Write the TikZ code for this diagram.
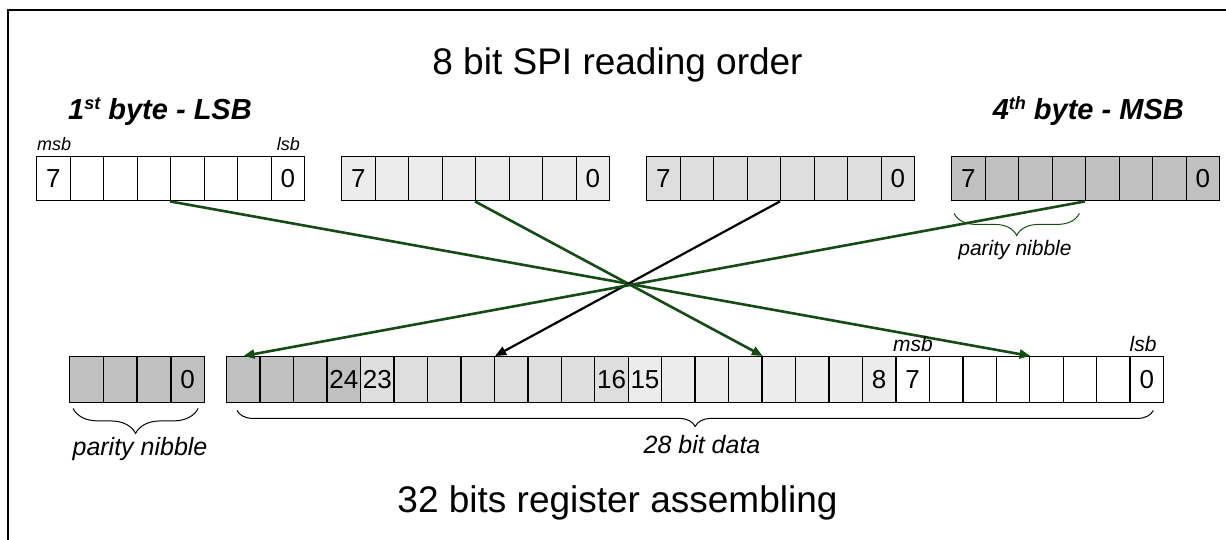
\documentclass[tikz,border=0pt]{standalone}
\usepackage{fontspec}
\setmainfont{Liberation Sans}
\usetikzlibrary{arrows.meta,decorations.pathreplacing}
\definecolor{dgreen}{RGB}{22,75,22}
\definecolor{gA}{RGB}{236,236,236}
\definecolor{gB}{RGB}{222,222,222}
\definecolor{gC}{RGB}{192,192,192}
\newcommand{\fsz}[1]{\fontsize{#1pt}{#1pt}\selectfont}
\begin{document}
\begin{tikzpicture}[x=1pt,y=-1pt,
  cellT/.style={draw=black,line width=1.4pt,minimum width=33.5pt,minimum height=44pt,inner sep=0pt,anchor=north west,font=\fsz{26}},
  cellB/.style={cellT,minimum height=46pt},
  txt/.style={inner sep=0pt},
  conn/.style={line width=2.6pt,-{Triangle[length=11pt,width=9pt]}},
  brc/.style={decorate,line width=1pt},
]
\useasboundingbox (0,0) rectangle (1226,539);
% frame
\draw[line width=2.5pt] (8,545) -- (8,10) -- (1230,10);
% top bytes
\foreach \b/\x/\c in {1/36/white,2/341/gA,3/646/gB,4/951/gC}{
  \foreach \i in {0,...,7}{
    \def\lbl{}
    \ifnum\i=0 \def\lbl{7}\fi
    \ifnum\i=7 \def\lbl{0}\fi
    \node[cellT,fill=\c] (t\b-\i) at ({\x+\i*33.5},156) {\lbl};
  }
}
% parity nibble (bottom)
\foreach \i in {0,...,3}{
  \def\lbl{}
  \ifnum\i=3 \def\lbl{0}\fi
  \node[cellB,fill=gC] (p\i) at ({69+\i*33.75},356) {\lbl};
}
% 28 bit data
\foreach \i in {0,...,27}{
  \pgfmathtruncatemacro{\bit}{27-\i}
  \def\fc{white}
  \ifnum\i<20 \def\fc{gA}\fi
  \ifnum\i<12 \def\fc{gB}\fi
  \ifnum\i<4 \def\fc{gC}\fi
  \def\lbl{}
  \ifnum\bit=24 \let\lbl\bit\fi
  \ifnum\bit=23 \let\lbl\bit\fi
  \ifnum\bit=16 \let\lbl\bit\fi
  \ifnum\bit=15 \let\lbl\bit\fi
  \ifnum\bit=8 \let\lbl\bit\fi
  \ifnum\bit=7 \let\lbl\bit\fi
  \ifnum\bit=0 \let\lbl\bit\fi
  \node[cellB,fill=\fc] (d\bit) at ({226+\i*33.46},356) {\lbl};
}
% connectors
\draw[conn,dgreen] (t1-4.south west) -- (d4.north east);
\draw[conn,dgreen] (t2-4.south west) -- (d12.north east);
\draw[conn,black,line width=2.2pt] (t3-4.south west) -- (d20.north east);
\draw[conn,dgreen] (t4-4.south west) -- (d27.north);
% braces
\draw[brc,dgreen,decoration={brace,mirror,amplitude=22pt}]
  ([xshift=3pt,yshift=-12pt]t4-0.south west) -- ([xshift=-7pt,yshift=-12pt]t4-3.south east);
\draw[brc,decoration={brace,mirror,amplitude=25pt}]
  ([xshift=4pt,yshift=-5pt]p0.south west) -- ([xshift=-7pt,yshift=-5pt]p3.south east);
\draw[brc,decoration={brace,mirror,amplitude=16pt}]
  ([xshift=11pt,yshift=-7pt]d27.south west) -- ([xshift=-11pt,yshift=-7pt]d0.south east);
% texts
\node[txt,font=\fsz{37},anchor=base] (title) at (617.5,74) {8 bit SPI reading order};
\node[txt,font=\fsz{37},anchor=base] (sub) at (617.5,512) {32 bits register assembling};
\node[txt,font=\fsz{29}\bfseries\itshape,anchor=base west] (b1) at (68,119) {1\raisebox{10pt}{\fsz{18}st} byte - LSB};
\node[txt,font=\fsz{29}\bfseries\itshape,anchor=base east] (b4) at (1184,119) {4\raisebox{10pt}{\fsz{18}th} byte - MSB};
\node[txt,font=\fsz{18}\itshape,anchor=base west] (msbT) at (37,150) {msb};
\node[txt,font=\fsz{18}\itshape,anchor=base east] (lsbT) at (300,150) {lsb};
\node[txt,font=\fsz{21}\itshape,anchor=base] (msbB) at (913,351) {msb};
\node[txt,font=\fsz{21}\itshape,anchor=base] (lsbB) at (1143,351) {lsb};
\node[txt,font=\fsz{21}\itshape,anchor=base] (parT) at (1015,255) {parity nibble};
\node[txt,font=\fsz{25}\itshape,anchor=base] (parB) at (140,455) {parity nibble};
\node[txt,font=\fsz{25}\itshape,anchor=base] (data) at (702,453) {28 bit data};
\end{tikzpicture}
\end{document}
